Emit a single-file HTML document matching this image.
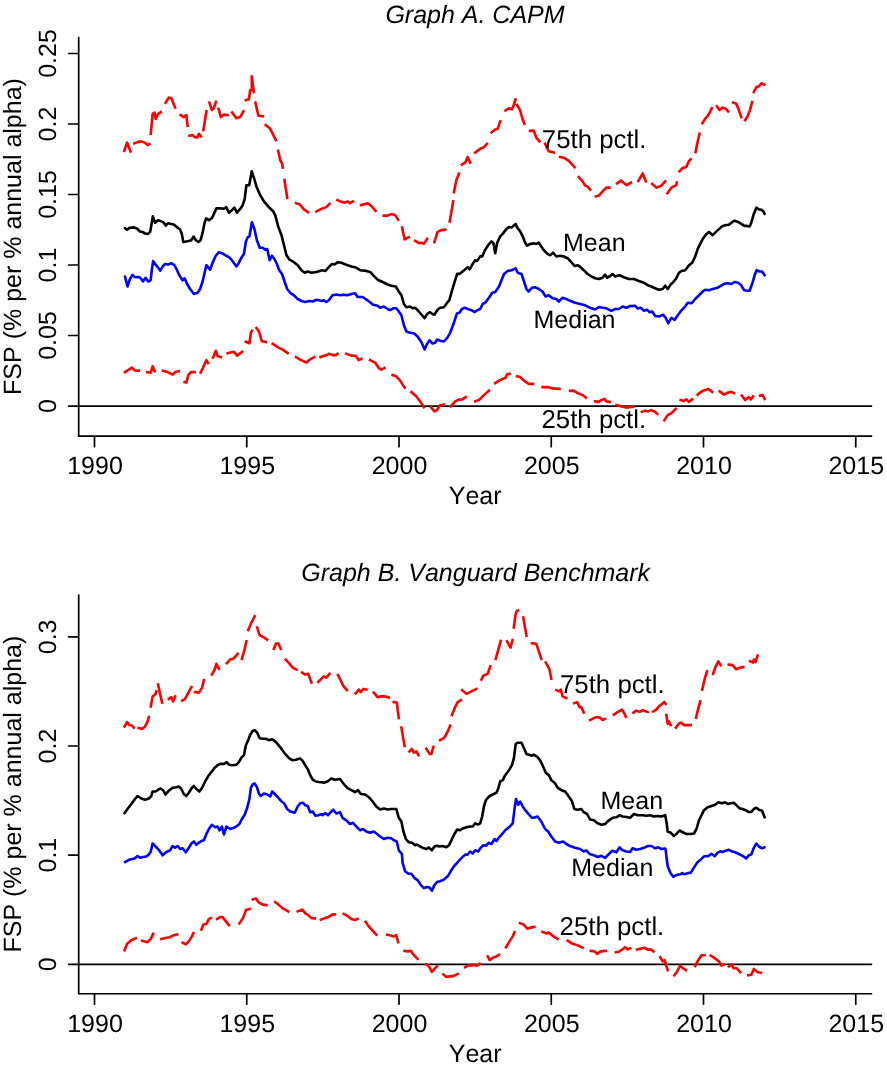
<!DOCTYPE html>
<html><head><meta charset="utf-8"><title>FSP</title>
<style>
html,body{margin:0;padding:0;background:#fff;}
svg{display:block;}
g.t{filter:grayscale(1);}
text{font-family:"Liberation Sans",sans-serif;fill:#000;font-kerning:none;text-rendering:geometricPrecision;}
</style></head>
<body>
<svg width="887" height="1067" viewBox="0 0 887 1067">
<rect width="887" height="1067" fill="#fff"/>
<path d="M78.7,37.50V436.15H871.5M68.6,406.10H871.5M68.6,335.50H78.7M68.6,265.00H78.7M68.6,194.50H78.7M68.6,124.00H78.7M68.6,53.50H78.7M94.5,436.15V446.65M246.75,436.15V446.65M399,436.15V446.65M551.25,436.15V446.65M703.5,436.15V446.65M855.75,436.15V446.65" fill="none" stroke="#000" stroke-width="1.7" stroke-linecap="round" stroke-linejoin="round"/>
<path d="M124.3,150.9L127.0,142.6L130.5,151.4M134.3,143.4L137.5,142.1L141.3,141.4L144.6,142.6L147.6,145.1L149.3,144.1M150.8,133.8L152.6,113.8L154.6,112.6L155.6,118.8L158.1,113.8L160.8,112.1M165.6,102.6L168.8,97.6L171.3,98.3L175.1,107.6M180.6,115.1L183.8,117.1L186.3,115.1L187.6,125.8M189.4,135.8L192.6,135.1L194.6,137.1L197.1,137.6L198.9,133.8L200.9,136.3M203.4,130.1L206.4,111.3M209.4,102.6L211.9,110.1L213.9,108.1L215.9,101.8M218.6,108.8L220.9,117.1L223.9,114.6L227.6,115.1M232.1,112.6L236.4,118.3L240.2,117.1L243.4,111.3M245.9,100.1L248.9,99.3L250.2,90.0L251.9,90.0L251.7,76.3L253.9,92.0M255.4,102.6L258.4,115.6L262.7,116.3M265.7,125.1L270.2,128.8L275.9,140.1M278.2,150.9L280.2,160.1L282.2,163.9L282.7,167.6M284.5,180.1L287.2,197.7M296.0,203.2L299.5,204.2L304.0,209.4L308.0,212.2M316.3,211.6L321.3,208.9L326.3,207.1L329.5,203.9M337.5,200.1L341.3,201.9L345.0,202.6L347.5,201.4L350.0,203.1L353.0,201.4M361.3,205.1L365.1,203.9L368.1,203.4L371.3,205.9L375.6,210.9M383.8,215.6L387.6,215.6L391.3,214.1L395.1,215.1L398.1,219.6M402.1,227.6L404.6,239.4L408.9,237.2M415.1,240.9L418.9,243.2L421.4,242.7L423.9,243.9L427.1,238.9M434.4,242.2L437.6,231.9L441.4,230.1L445.2,229.6M449.7,221.4L453.2,201.4M453.9,192.1L456.4,180.1L458.9,173.8M461.9,164.6L465.2,162.6L467.7,157.1L470.2,162.6M475.2,152.6L480.2,148.8L483.9,147.1L486.9,143.8M491.5,132.5L495.2,129.5L497.7,128.8L500.2,121.3M505.5,110.5L508.8,108.3L512.0,109.3L513.8,105.0L515.5,99.5M517.0,105.0L520.0,110.0L522.5,118.8L524.3,123.8M530.0,130.8L533.8,130.6L536.3,137.6L539.5,141.3M545.1,143.8L548.8,151.3L553.8,152.6M560.1,157.1L564.6,158.1L568.8,160.9L574.6,167.1M578.8,177.1L582.6,181.4L585.1,185.6L587.6,186.4L590.1,189.6M595.9,196.4L598.9,195.6L602.6,191.4L606.4,187.6L609.4,187.6M617.1,183.4L620.9,180.6L623.9,183.1L626.9,185.1L630.9,182.6M638.4,180.9L642.7,173.4L645.9,181.4M652.2,183.9L656.4,187.6L661.4,185.6L665.2,181.4M667.5,193.2L671.3,187.7L673.8,186.4L676.3,185.2L676.8,182.6M679.5,171.4L682.5,168.1L686.3,166.9L688.8,161.4L690.5,159.4M695.5,152.1L697.5,142.6L699.5,133.8M702.5,123.1L705.0,118.8L708.0,115.6L710.1,111.8L711.8,108.1M716.8,106.3L719.6,110.1L722.6,107.6L725.8,108.8L728.1,111.3M733.1,102.6L736.3,103.8L738.8,110.1L741.3,117.1M745.1,120.1L747.6,116.3L750.1,109.6L752.1,102.1M753.8,92.0L756.4,87.0L758.9,86.3L761.4,83.3L764.4,84.5" fill="none" stroke="#ff0000" stroke-width="2.6" stroke-linejoin="round" stroke-linecap="square"/>
<path d="M125.0,372.1L128.8,369.6L132.0,367.6L135.0,370.6L138.8,370.6M147.1,372.1L150.8,372.6L152.6,366.3L154.6,371.3M163.1,370.8L167.6,372.1L172.6,374.6L175.8,371.8L178.8,371.3M184.6,382.1L186.3,382.6L188.3,375.1L190.9,372.1L194.6,372.1M200.6,372.6L203.1,367.6L206.4,360.1L208.1,363.1M213.1,357.6L215.9,350.8L217.6,356.3L220.9,357.1M227.6,353.3L230.6,352.6L233.9,351.8L237.2,355.6L242.2,351.8M245.9,341.8L249.4,343.3L250.9,332.5L251.9,330.8M256.4,328.0L258.9,331.3L261.9,341.3L265.7,342.1M272.7,343.8L277.7,347.1L282.7,349.6L287.7,353.1M296.0,357.1L300.2,359.6L306.5,362.6L309.7,359.6L314.2,357.1M320.5,357.1L325.0,355.6L328.8,353.8L332.5,355.1L335.8,355.1L337.5,353.8M346.3,353.8L351.3,355.6L355.6,355.8L358.8,360.1L361.3,358.8M370.1,360.1L375.1,362.6L378.8,368.1L381.3,369.6L384.3,368.1M392.6,375.1L396.3,376.3L400.1,380.6L404.6,387.6M411.4,392.1L416.4,396.4L420.1,401.4L423.9,407.1M430.9,407.1L434.4,411.4L436.9,410.1L439.6,405.6L443.9,404.6M450.7,406.4L455.2,401.4L458.9,399.6L462.2,399.4L465.7,397.1M475.2,401.4L478.9,400.1L483.9,395.1L489.0,390.6M495.2,383.1L499.0,380.6L502.7,378.8L505.2,378.1L507.0,374.6L509.5,373.8M517.0,376.3L520.0,377.1L525.0,381.4L528.8,383.9L533.0,383.9M542.5,387.1L547.5,387.1L552.5,388.4L559.5,388.9M570.1,390.9L573.8,390.6L577.6,393.1L582.6,395.1L585.8,397.6M595.1,401.4L598.8,401.9L601.3,400.1L604.6,398.9L606.3,401.4L609.6,401.9M616.4,405.1L621.4,406.4L626.4,407.6L633.1,406.6M641.9,411.9L645.1,410.6L648.1,411.4L651.4,410.1L655.2,411.9L657.2,413.9M664.4,420.1L667.7,415.1L671.4,413.1L675.7,408.9M680.7,400.1L683.9,400.9L686.4,399.4L688.9,401.9L692.2,399.4M697.7,394.6L701.5,391.4L705.2,390.1L708.2,388.9L712.2,391.9M719.7,391.4L724.0,394.6L727.7,392.6L731.5,391.9L734.0,393.1M741.8,395.6L745.1,400.1L748.8,397.1L750.8,399.4L753.1,396.4M760.1,395.6L762.6,395.1L764.6,398.9" fill="none" stroke="#ff0000" stroke-width="2.6" stroke-linejoin="round" stroke-linecap="square"/>
<path d="M125.0,228.2L127.0,229.7L130.0,227.7L133.8,227.4L137.0,228.5L140.0,231.5L142.5,232.0L145.1,233.5L147.6,234.0L150.1,232.0L151.8,222.7L152.8,216.4L155.1,222.7L158.1,220.2L161.3,221.4L163.8,222.7L165.8,225.7L168.1,223.2L171.3,223.9L173.8,224.4L177.1,227.2L180.1,229.5L181.8,234.0L183.3,242.0L186.3,241.5L191.4,240.2L193.6,236.5L195.9,240.2L198.4,242.0L200.6,240.2L202.6,232.7L204.6,222.7L206.1,218.4L208.9,220.2L211.9,218.2L213.9,213.9L216.4,208.4L220.1,208.2L223.9,208.7L226.4,207.2L228.9,212.7L231.9,210.2L234.4,207.7L236.9,212.7L240.2,208.9L242.7,205.2L244.7,198.9L246.4,185.2L249.2,185.2L251.7,171.4L253.9,177.6L256.4,186.4L260.2,195.2L263.9,201.4L268.9,207.2L272.7,210.7L275.2,215.2L278.2,226.4L281.5,235.2L284.0,245.2L286.5,255.2L289.5,259.7L294.0,262.2L297.7,265.2L301.5,270.2L304.7,272.8L307.7,271.5L311.5,272.8L316.5,272.0L322.0,270.2L325.5,270.9L328.8,267.2L332.0,263.9L334.5,264.4L338.0,262.2L341.3,262.7L346.3,264.7L351.3,266.4L355.1,267.2L360.1,270.2L366.3,270.9L370.1,271.9L373.8,275.9L377.6,279.7L382.6,282.0L387.6,284.5L391.3,285.7L395.8,286.5L398.8,291.5L401.4,295.2L403.9,304.0L406.4,307.2L410.1,306.5L412.6,308.2L415.1,307.7L418.4,311.0L421.4,314.5L424.6,318.2L427.1,314.0L429.6,312.2L432.6,314.0L434.4,314.7L437.6,309.7L440.1,307.7L443.9,307.2L447.2,302.7L449.4,300.2L451.4,292.7L454.4,282.7L457.2,273.9L459.4,273.9L463.2,270.9L467.7,267.2L469.7,269.4L472.7,263.9L475.2,260.2L477.2,260.9L480.2,256.4L482.2,256.4L485.2,249.7L488.2,245.2L491.5,241.4L493.5,243.2L495.2,253.2L497.2,242.7L500.2,236.4L502.7,233.9L506.5,228.9L509.0,227.1L511.5,227.6L515.7,223.9L517.2,227.6L520.2,231.4L522.7,236.4L525.2,242.7L527.2,245.7L530.2,243.9L532.0,243.9L533.3,243.2L536.3,243.9L538.8,242.7L541.3,246.4L543.8,250.2L547.6,254.0L550.1,255.2L553.1,252.7L556.3,256.5L560.1,255.7L563.8,256.5L567.6,258.2L571.3,262.2L574.6,266.0L577.6,265.2L580.6,267.2L583.8,270.2L587.6,274.0L591.4,276.5L595.1,278.2L598.9,279.0L602.6,277.7L605.1,274.7L607.1,277.7L610.1,276.0L612.6,274.0L615.1,276.5L619.6,275.2L623.9,277.2L628.9,279.0L633.9,279.0L638.9,281.0L643.9,282.7L647.7,285.2L651.4,286.5L655.2,288.2L658.9,289.7L662.7,289.0L665.2,285.7L667.7,289.0L670.2,285.2L672.7,282.7L675.9,279.0L679.0,272.7L681.5,271.0L685.2,270.2L689.0,265.2L692.2,262.7L695.2,256.5L697.7,249.0L700.2,243.9L703.2,238.2L706.5,233.9L709.0,231.9L712.7,235.2L716.5,231.4L722.0,226.4L725.1,225.2L728.8,224.7L732.1,222.2L734.6,220.7L738.1,221.9L741.3,223.9L744.3,225.9L747.1,225.9L749.6,226.4L751.3,222.7L753.8,213.9L756.4,207.7L758.9,209.4L761.4,209.7L763.4,211.4L764.6,213.9" fill="none" stroke="#000" stroke-width="2.6" stroke-linejoin="round" stroke-linecap="round"/>
<path d="M125.0,276.5L127.5,286.5L130.0,279.0L132.5,274.8L135.0,277.3L138.8,277.0L140.8,278.3L143.0,281.5L145.6,277.8L148.1,281.5L150.6,280.3L151.8,270.2L153.1,261.0L155.6,264.7L158.1,267.7L160.3,270.7L162.6,266.5L165.1,264.0L168.1,264.5L171.3,263.2L174.3,265.2L176.8,269.7L179.3,275.3L182.6,280.3L184.6,278.3L187.1,284.0L190.1,289.0L193.9,294.0L197.6,292.8L200.1,289.0L202.6,281.5L204.6,272.8L206.4,265.2L210.1,269.7L212.6,262.7L215.6,256.0L218.9,252.2L222.1,253.2L225.1,255.2L228.9,257.2L231.9,260.2L236.4,266.5L238.9,262.7L241.4,257.7L243.9,254.0L245.9,241.5L247.7,237.2L249.4,236.5L251.9,222.2L254.4,229.0L256.9,240.2L259.7,247.7L262.7,247.7L265.2,249.7L267.2,249.0L269.7,260.2L271.9,255.7L274.4,259.0L276.9,264.0L279.0,269.7L282.0,274.0L284.5,281.5L287.2,289.0L290.2,292.8L294.0,295.3L297.7,299.0L301.5,301.0L305.2,302.0L309.0,301.0L312.7,301.5L316.5,299.8L322.0,301.0L323.8,300.2L326.3,302.0L328.8,300.2L332.5,295.2L336.3,294.5L340.0,295.2L343.8,294.7L347.5,295.2L351.3,294.0L355.1,293.2L357.6,297.0L362.6,297.0L366.3,299.5L370.1,302.2L373.1,304.7L377.6,305.7L380.1,307.7L383.8,306.5L387.6,309.0L390.1,310.2L393.8,308.2L396.3,308.2L398.8,311.5L401.4,315.2L403.9,325.3L406.4,331.5L410.1,332.8L413.9,333.3L417.6,336.5L421.4,342.3L424.6,349.5L427.1,344.0L429.6,340.3L432.6,343.5L435.1,342.8L437.1,339.5L440.1,340.8L443.9,341.5L447.2,337.8L450.2,332.8L453.9,322.8L456.9,313.5L459.4,312.7L461.9,309.0L464.7,307.7L467.7,309.0L471.4,310.2L474.7,312.0L477.2,310.2L480.2,309.0L482.7,304.0L485.2,302.7L489.0,297.7L492.2,292.7L495.2,292.0L499.0,286.5L501.5,280.2L504.0,273.9L507.7,270.9L511.5,270.2L515.7,268.4L517.7,272.7L521.5,273.9L524.0,281.5L526.5,289.0L528.5,291.5L532.0,287.7L535.0,287.2L538.8,289.0L542.5,291.5L545.6,296.5L548.8,295.3L552.6,298.3L556.3,299.0L558.8,301.5L562.6,297.8L566.3,299.0L570.1,300.8L575.1,302.8L580.1,304.0L585.1,305.3L590.1,307.8L595.1,309.5L598.9,307.0L602.6,307.8L606.4,308.3L611.4,310.8L615.1,309.0L618.9,309.0L622.6,306.5L626.4,307.8L630.1,306.0L635.2,305.8L637.7,308.5L640.7,307.8L643.9,310.8L647.2,309.8L649.7,312.3L652.2,311.5L655.2,316.0L658.9,316.5L663.2,314.8L665.7,317.8L668.2,323.3L671.4,317.8L674.7,319.8L677.7,315.3L681.5,310.3L685.2,306.5L687.7,302.8L691.5,303.3L695.2,299.0L699.0,295.3L702.7,291.5L705.2,289.7L709.0,290.2L712.7,289.0L717.7,287.7L722.0,285.2L725.1,283.5L728.1,283.3L731.3,284.0L734.6,282.0L738.1,282.8L741.3,285.3L743.8,289.8L746.3,290.8L749.6,290.8L752.1,284.0L754.6,275.3L756.6,270.2L759.6,271.5L762.1,271.5L764.6,275.3" fill="none" stroke="#0000ff" stroke-width="2.6" stroke-linejoin="round" stroke-linecap="round"/>
<g class="t">
<text x="95.0" y="474.45" font-size="25" text-anchor="middle">1990</text>
<text x="247.25" y="474.45" font-size="25" text-anchor="middle">1995</text>
<text x="399.5" y="474.45" font-size="25" text-anchor="middle">2000</text>
<text x="551.75" y="474.45" font-size="25" text-anchor="middle">2005</text>
<text x="704.0" y="474.45" font-size="25" text-anchor="middle">2010</text>
<text x="856.25" y="474.45" font-size="25" text-anchor="middle">2015</text>
<text transform="translate(56.2,406.10) rotate(-90)" font-size="25" text-anchor="middle">0</text>
<text transform="translate(56.2,335.50) rotate(-90)" font-size="25" text-anchor="middle">0.05</text>
<text transform="translate(56.2,265.00) rotate(-90)" font-size="25" text-anchor="middle">0.1</text>
<text transform="translate(56.2,194.50) rotate(-90)" font-size="25" text-anchor="middle">0.15</text>
<text transform="translate(56.2,124.00) rotate(-90)" font-size="25" text-anchor="middle">0.2</text>
<text transform="translate(56.2,53.50) rotate(-90)" font-size="25" text-anchor="middle">0.25</text>
<text x="475.2" y="503.90" font-size="25" text-anchor="middle">Year</text>
<text transform="translate(20.7,236.50) rotate(-90)" font-size="25" text-anchor="middle">FSP (% per % annual alpha)</text>
<text x="475" y="22.90" font-size="25" font-style="italic" text-anchor="middle">Graph A. CAPM</text>
<text x="541.8" y="148.20" font-size="25.8">75th pctl.</text>
<text x="563" y="250.80" font-size="25">Mean</text>
<text x="533.5" y="328.20" font-size="25">Median</text>
<text x="541.5" y="428.20" font-size="25.8">25th pctl.</text>
</g>
<path d="M78.7,595.10V993.75H871.5M68.6,964.30H871.5M68.6,855.10H78.7M68.6,746.00H78.7M68.6,636.90H78.7M94.5,993.75V1004.25M246.75,993.75V1004.25M399,993.75V1004.25M551.25,993.75V1004.25M703.5,993.75V1004.25M855.75,993.75V1004.25" fill="none" stroke="#000" stroke-width="1.7" stroke-linecap="round" stroke-linejoin="round"/>
<path d="M124.5,726.4L127.0,722.1L129.5,725.1L132.0,725.6L133.8,727.6M138.8,728.1L142.0,728.9L145.1,726.4L147.6,721.4L148.8,717.1M150.8,706.4L152.6,696.4L155.6,693.9L156.3,691.4M158.1,684.6L160.1,693.9L162.1,702.6M168.8,698.9L171.3,697.1L173.1,701.4L175.1,696.4M182.1,700.6L185.1,698.9L188.1,693.1L191.4,687.1M195.1,692.1L198.9,692.6L202.1,687.6L203.9,680.1M211.9,674.6L214.4,670.1L216.4,663.8L218.9,668.8M226.9,663.1L230.1,659.6L233.1,658.8L235.7,656.3L237.7,653.8M241.9,658.8L244.7,648.8L246.4,641.3M248.2,630.0L251.4,622.5L254.7,616.3M257.2,627.5L259.4,635.0L263.2,637.0L267.2,639.6M273.9,648.8L275.9,643.8L278.2,643.3L280.7,648.8M285.7,659.6L289.0,663.1L292.7,667.6L296.5,669.6M302.2,672.6L305.2,674.6L308.2,673.8L311.5,682.6M318.3,681.8L321.3,678.8L323.8,676.3L326.3,677.6L329.5,673.8M338.0,675.1L340.5,680.1L343.3,685.9L347.0,690.1M355.6,693.4L358.8,689.6L360.8,692.1L363.3,688.9L366.3,689.6M373.8,692.6L377.6,697.1L381.3,696.4L385.1,696.4L388.8,697.6M393.8,702.1L396.8,702.6L398.8,718.1M401.4,727.6L403.1,737.7L404.6,745.9M409.4,751.4L411.9,748.9L413.9,752.7L416.4,751.4L418.4,755.2M426.4,748.9L429.6,753.9L431.4,753.9L433.4,746.9M440.1,740.2L444.4,737.7L447.7,731.4L450.2,725.6M451.9,715.1L455.2,707.1L457.7,702.1L460.9,700.1M462.2,690.1L466.4,693.9L471.4,691.4L476.4,688.9M481.4,679.6L483.4,675.6L487.7,673.8L490.2,666.3M495.7,658.8L498.2,650.1L500.7,640.8M507.0,641.3L510.5,647.6L512.5,640.1M513.8,627.5L515.5,615.0L516.8,610.8L518.0,610.5M523.3,617.5L525.0,627.5L526.5,635.8M532.0,643.3L536.3,643.8L538.8,651.3L541.3,658.8M545.8,662.6L549.3,668.8L551.3,678.8M556.3,690.1L559.3,691.4L560.8,689.6L562.6,696.4L566.3,698.1M574.3,703.1L577.1,702.1L579.6,707.1L581.3,707.1L583.8,712.6M590.1,720.1L593.9,718.1L597.1,717.1L600.1,717.6L602.6,720.1L605.1,718.9M613.9,714.6L617.6,712.1L622.1,709.6L623.9,712.6L625.9,716.9M633.4,712.6L636.4,710.6L639.7,711.9L642.7,710.1L647.7,712.1M653.2,711.4L656.4,709.6L658.9,706.4L661.9,703.9L664.4,701.9L665.7,703.9M666.4,715.1L667.7,723.9L668.9,721.4L670.7,725.1M675.9,727.6L679.0,723.4L680.7,722.6L684.0,725.1L690.7,725.1M696.0,717.6L698.2,708.9L700.2,701.4M702.2,689.6L704.7,678.8L707.0,671.3M713.1,673.8L715.8,666.3L718.3,661.3L720.6,665.1M728.8,664.6L732.6,665.1L736.3,669.3L740.1,667.6L743.3,667.1M750.1,661.3L753.1,662.6L753.8,659.6L755.6,662.1L757.6,655.6" fill="none" stroke="#ff0000" stroke-width="2.6" stroke-linejoin="round" stroke-linecap="square"/>
<path d="M124.5,950.2L127.0,943.9L131.3,940.2L135.8,938.2M142.0,940.7L145.1,941.4L147.6,942.2L150.8,938.9L153.1,933.9M161.3,938.9L166.3,937.7L170.1,937.2L173.8,935.2L177.1,934.4M182.6,942.7L185.8,944.4L188.8,941.4L191.9,936.4L193.4,933.1M201.4,929.6L203.4,924.6L206.4,923.9L208.9,918.9L210.9,918.1M217.1,918.9L220.1,917.1L222.6,917.1L225.9,921.4L228.9,925.1M239.4,923.4L243.2,917.6L245.9,910.1L249.7,908.9M252.7,899.4L255.7,898.4L258.9,902.6L262.7,904.6L266.4,905.1M275.2,902.1L279.0,905.1L282.7,908.4L288.2,911.4M297.7,911.4L302.2,909.6L305.2,913.1L308.2,915.1L311.5,918.1L314.7,918.4M320.8,919.6L325.0,918.1L328.8,916.9L332.0,914.6L335.0,914.4M343.8,913.9L347.5,915.9L351.3,918.9L355.1,920.1L357.6,918.9M365.6,921.9L368.8,926.4L372.6,930.6L376.3,934.7M387.1,934.7L390.1,935.2L393.8,936.4L396.3,935.2L398.1,942.2M404.6,950.9L407.6,951.4L410.9,950.9L413.9,955.2L417.6,958.9M426.4,964.4L428.9,966.4L431.9,971.9L434.4,968.9L436.9,966.4M443.4,974.4L446.4,976.9L450.2,976.4L453.9,975.9L457.7,973.9M465.2,967.2L468.9,965.2L471.4,965.7L473.9,964.7L476.4,965.9L479.7,963.9M487.7,956.4L489.7,960.2L492.7,957.7L496.5,956.4L499.0,954.7M506.0,947.2L509.5,941.4L512.7,936.4L514.5,932.1M520.0,923.1L523.8,924.6L527.5,928.9L530.5,927.6L534.3,926.9M542.5,931.9L546.3,933.4L548.8,932.6L552.5,935.7L557.5,938.9M567.6,940.7L571.3,943.2L575.1,944.4L578.8,945.9L582.6,947.7M590.8,950.9L594.6,951.4L597.1,953.9L600.6,951.4L605.8,950.9M615.9,952.2L619.4,951.4L622.1,949.7L625.1,947.2L627.6,949.4L630.1,948.4M637.1,949.4L641.4,948.4L644.4,947.7L647.6,949.7L650.6,949.4L653.4,951.4M660.2,957.2L662.7,961.4L664.7,960.2L666.4,966.4L667.7,970.2M674.4,975.2L677.2,971.4L680.2,965.7L682.7,968.2L685.9,970.2M695.2,965.9L698.2,960.2L701.5,955.2L704.5,955.2M710.7,955.7L714.7,958.2L719.0,961.4L721.5,965.7L724.0,964.4M729.0,966.4L731.5,964.4L733.5,968.2L736.5,968.2L740.2,972.2M748.3,975.2L751.3,974.7L753.8,968.9L757.1,971.9L760.9,972.7" fill="none" stroke="#ff0000" stroke-width="2.6" stroke-linejoin="round" stroke-linecap="square"/>
<path d="M124.5,813.2L127.5,809.0L131.3,804.0L135.0,799.0L137.5,796.0L141.3,798.5L145.1,799.7L148.8,798.5L151.3,796.0L152.6,791.5L155.6,791.5L158.1,789.7L160.6,788.5L163.1,790.2L165.6,794.5L168.8,790.7L172.6,787.7L176.3,787.2L178.8,786.5L181.3,789.0L183.8,794.0L186.3,796.0L188.8,792.7L191.4,788.5L193.9,786.0L196.4,789.0L199.4,791.5L202.1,787.7L205.1,781.5L208.9,775.2L211.9,771.4L214.6,767.7L217.6,765.2L220.1,763.9L223.9,763.9L226.9,762.2L228.9,764.7L232.6,765.2L236.4,764.7L238.9,762.2L241.4,757.7L243.9,755.2L245.9,745.2L248.2,740.2L250.2,734.7L252.7,730.9L254.7,730.2L257.2,732.7L259.7,738.2L263.2,738.7L266.4,738.9L268.9,740.2L272.2,739.2L275.2,741.4L278.2,744.7L281.5,748.9L285.2,753.9L289.0,758.2L292.2,760.2L296.0,759.7L299.7,758.4L302.2,760.2L305.2,765.2L307.7,768.9L310.2,775.2L312.7,779.7L315.7,781.5L319.0,782.0L322.0,782.2L323.8,782.7L327.5,781.5L331.3,778.5L335.0,779.7L340.0,779.0L343.8,784.0L347.5,788.2L351.3,790.2L355.1,792.2L358.1,790.2L360.8,794.0L365.1,794.5L368.8,797.2L372.6,801.5L376.3,806.5L380.1,809.5L383.8,808.5L387.6,809.5L391.3,809.0L396.3,809.0L398.8,817.8L401.4,821.5L403.4,831.5L405.9,839.0L408.9,842.3L412.1,842.8L415.1,845.3L417.1,844.5L420.1,846.5L423.9,848.3L426.4,849.0L428.9,847.3L431.9,850.3L434.4,846.5L436.9,845.8L439.4,846.5L442.6,846.0L446.4,847.3L448.9,845.3L451.4,840.3L454.4,834.0L457.2,829.5L459.7,830.3L462.7,828.5L466.4,827.3L470.2,826.5L472.7,826.5L475.2,823.3L477.7,824.5L480.2,823.3L482.2,816.5L483.9,806.5L485.9,800.2L489.0,796.5L492.7,794.5L496.5,792.7L498.5,787.7L500.2,781.5L502.7,780.2L505.2,775.2L509.0,770.2L512.0,765.2L514.0,757.7L515.7,743.9L518.2,742.7L521.5,742.7L524.0,748.2L526.5,753.9L529.0,754.7L532.0,755.7L533.8,754.7L537.5,757.2L540.0,760.2L542.5,765.2L545.8,772.7L548.8,775.2L551.3,780.2L554.6,782.7L557.6,787.7L561.3,790.2L565.1,791.5L568.8,796.5L572.1,801.5L574.3,809.0L577.6,809.7L581.3,809.0L583.8,812.2L587.1,814.0L590.1,819.5L593.9,820.3L597.6,823.3L601.4,824.8L605.1,824.0L608.9,820.3L612.6,817.8L616.4,817.3L619.6,815.2L622.6,816.5L626.4,817.0L630.1,817.8L633.9,814.0L637.7,815.2L642.7,815.2L646.4,815.7L650.2,815.2L653.9,816.5L657.7,816.0L661.4,816.5L665.2,815.2L666.4,821.5L667.7,831.5L670.9,832.8L673.9,836.0L676.4,834.0L679.7,830.3L682.7,832.3L686.5,834.0L690.2,834.0L694.0,833.5L696.5,829.0L699.0,820.3L701.5,815.2L704.0,810.2L707.7,807.2L711.5,806.0L715.2,804.7L718.2,802.2L722.0,803.2L725.1,802.2L727.6,804.0L730.6,803.2L733.8,802.7L736.3,805.2L739.3,808.2L742.6,809.0L745.6,810.2L748.8,812.0L751.3,812.0L753.8,809.0L756.4,807.7L758.9,809.7L762.1,810.7L764.6,817.3" fill="none" stroke="#000" stroke-width="2.6" stroke-linejoin="round" stroke-linecap="round"/>
<path d="M125.0,862.1L128.8,859.8L132.5,859.0L135.0,858.3L137.5,856.0L140.0,857.8L143.0,857.0L146.3,856.5L148.8,854.5L150.8,851.5L152.6,843.5L155.6,846.5L158.8,849.8L162.6,855.3L166.3,852.0L170.1,850.3L172.6,846.0L175.1,847.8L177.6,846.0L180.1,849.0L182.6,848.3L185.8,852.3L188.8,847.8L191.4,843.5L193.9,841.5L196.4,844.8L199.4,842.3L201.4,841.0L203.9,840.3L206.4,834.0L208.9,829.0L211.9,824.8L215.1,827.3L217.6,826.5L219.6,830.3L221.9,826.5L223.9,834.5L226.4,826.5L230.1,829.0L233.9,827.8L237.2,825.8L239.4,824.0L241.9,819.0L244.7,814.7L247.2,807.7L249.4,799.0L250.9,787.7L252.7,784.5L254.7,783.5L256.9,787.2L258.9,793.5L260.7,796.0L263.9,793.5L267.2,794.5L270.2,796.5L272.2,791.5L275.2,794.5L278.2,797.7L281.5,801.5L284.0,803.2L287.2,809.0L290.2,811.5L294.7,812.7L297.7,806.5L300.2,803.2L302.7,802.7L305.2,805.2L307.7,806.0L310.2,812.2L312.7,811.5L315.2,815.7L318.2,815.2L322.0,814.0L322.5,815.2L325.5,813.2L328.0,815.2L331.3,811.5L333.3,809.7L336.3,813.5L340.0,812.2L342.5,817.8L346.3,820.3L350.0,824.0L353.0,822.8L356.3,826.5L360.1,830.3L363.1,829.0L366.3,831.5L370.1,832.8L373.8,831.5L377.1,834.0L380.1,836.5L383.8,839.0L387.6,837.8L391.3,838.3L393.8,840.3L396.8,841.5L398.8,850.3L401.9,854.0L402.6,862.6L405.1,871.3L408.4,873.8L411.4,873.8L414.6,878.1L417.6,880.1L420.9,885.1L423.9,888.1L427.1,887.1L429.6,887.6L431.9,890.6L434.4,885.1L436.9,882.1L440.1,881.3L443.9,879.6L447.7,876.3L450.7,871.3L453.9,866.3L457.7,862.1L461.4,858.1L465.2,854.6L467.2,854.8L470.2,851.5L472.7,853.5L475.2,850.3L478.2,851.5L480.7,847.8L483.4,845.3L485.9,845.8L488.5,842.8L491.5,844.0L494.5,839.0L496.5,841.0L499.0,837.3L502.2,834.0L505.2,830.3L509.0,827.3L512.7,823.3L514.7,807.7L516.0,799.0L518.2,804.7L520.2,801.5L522.7,806.5L525.7,810.7L529.0,814.7L532.0,817.8L533.8,817.8L537.5,816.5L541.3,821.5L545.1,829.0L548.1,831.5L551.3,836.5L555.1,841.5L558.8,842.8L563.1,841.5L566.3,844.0L570.1,846.0L575.1,847.8L580.1,849.0L583.8,851.5L586.3,850.3L589.6,854.0L593.9,855.3L597.6,857.0L601.4,855.8L605.1,857.8L608.9,854.0L612.1,850.8L614.6,851.5L616.4,852.3L619.6,847.3L622.6,850.3L626.4,851.5L630.1,852.0L632.6,848.3L636.4,849.8L640.2,849.0L643.9,847.8L647.7,846.0L651.4,846.0L655.2,848.3L658.2,847.3L661.4,849.0L665.2,848.5L665.7,850.1L666.4,856.3L667.7,866.3L670.2,872.6L673.2,876.8L676.4,875.1L680.2,874.3L682.2,873.1L684.7,874.3L687.7,873.1L690.9,872.6L693.9,867.6L697.2,862.6L700.2,860.1L704.0,856.3L707.7,856.3L711.5,853.8L714.7,856.3L717.7,852.6L720.2,851.3L722.1,852.0L725.8,850.8L728.8,849.8L732.1,851.5L735.1,852.3L738.8,854.0L742.6,855.8L746.3,858.3L748.8,855.3L751.3,854.5L753.8,847.8L756.4,843.5L758.9,846.5L762.1,848.3L764.6,847.3" fill="none" stroke="#0000ff" stroke-width="2.6" stroke-linejoin="round" stroke-linecap="round"/>
<g class="t">
<text x="95.0" y="1032.05" font-size="25" text-anchor="middle">1990</text>
<text x="247.25" y="1032.05" font-size="25" text-anchor="middle">1995</text>
<text x="399.5" y="1032.05" font-size="25" text-anchor="middle">2000</text>
<text x="551.75" y="1032.05" font-size="25" text-anchor="middle">2005</text>
<text x="704.0" y="1032.05" font-size="25" text-anchor="middle">2010</text>
<text x="856.25" y="1032.05" font-size="25" text-anchor="middle">2015</text>
<text transform="translate(56.2,964.30) rotate(-90)" font-size="25" text-anchor="middle">0</text>
<text transform="translate(56.2,855.10) rotate(-90)" font-size="25" text-anchor="middle">0.1</text>
<text transform="translate(56.2,746.00) rotate(-90)" font-size="25" text-anchor="middle">0.2</text>
<text transform="translate(56.2,636.90) rotate(-90)" font-size="25" text-anchor="middle">0.3</text>
<text x="475.2" y="1061.50" font-size="25" text-anchor="middle">Year</text>
<text transform="translate(20.7,794.10) rotate(-90)" font-size="25" text-anchor="middle">FSP (% per % annual alpha)</text>
<text x="475.7" y="580.50" font-size="25" font-style="italic" text-anchor="middle">Graph B. Vanguard Benchmark</text>
<text x="560" y="693.20" font-size="25.8">75th pctl.</text>
<text x="600.5" y="809.10" font-size="25">Mean</text>
<text x="571.3" y="875.60" font-size="25">Median</text>
<text x="559.6" y="934.60" font-size="25.8">25th pctl.</text>
</g>
</svg>
</body></html>
